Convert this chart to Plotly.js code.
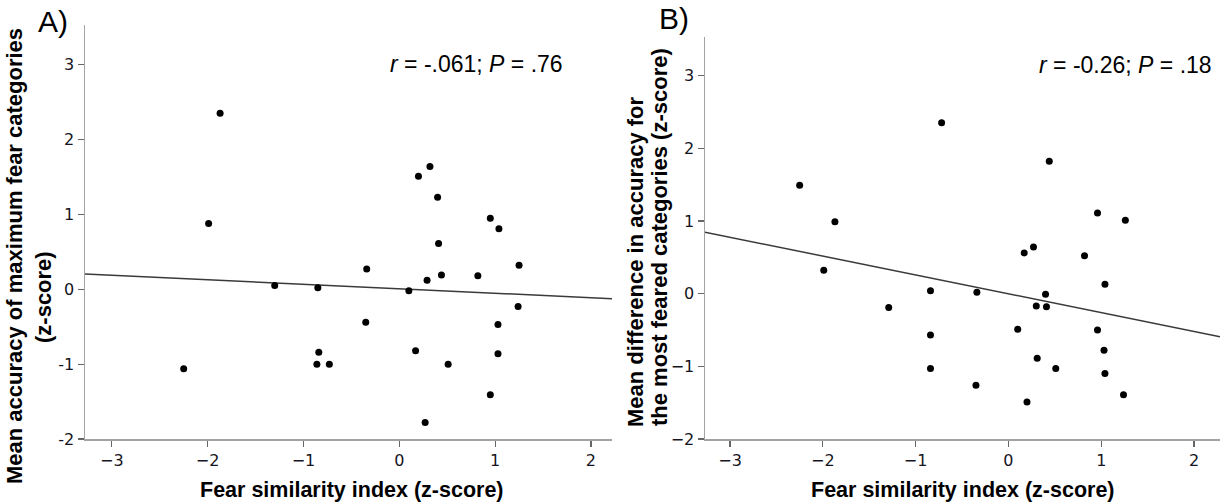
<!DOCTYPE html>
<html>
<head>
<meta charset="utf-8">
<script src="https://cdn.plot.ly/plotly-3.0.1.min.js"></script>
<style>html,body{margin:0;padding:0;background:#fff;} #chart{width:1225px;height:502px;}</style>
</head>
<body>
<div id="chart"></div>
<script>
// Fear similarity index (z-score), shared by both panels
const fearIndexA = [-2.25, -1.99, -1.87, -1.30, -0.85, -0.84, -0.86, -0.73, -0.34, -0.35, 0.10, 0.17, 0.20, 0.32, 0.27, 0.29, 0.40, 0.41, 0.44, 0.51, 0.82, 0.95, 1.04, 0.95, 1.03, 1.03, 1.25, 1.24];
// Panel A: mean accuracy of maximum fear categories (z-score)
const accuracyA = [-1.06, 0.88, 2.35, 0.05, 0.02, -0.84, -1.00, -1.00, 0.27, -0.44, -0.02, -0.82, 1.51, 1.64, -1.78, 0.12, 1.23, 0.61, 0.19, -1.00, 0.18, 0.95, 0.81, -1.41, -0.47, -0.86, 0.32, -0.23];

const fearIndexB = [-2.25, -1.99, -1.87, -1.29, -0.84, -0.84, -0.84, -0.72, -0.34, -0.35, 0.10, 0.17, 0.20, 0.27, 0.30, 0.31, 0.40, 0.41, 0.44, 0.51, 0.82, 0.96, 0.96, 1.03, 1.04, 1.04, 1.26, 1.24];
// Panel B: mean difference in accuracy for the most feared categories (z-score)
const diffB = [1.49, 0.32, 0.99, -0.19, 0.04, -0.57, -1.03, 2.35, 0.02, -1.26, -0.49, 0.56, -1.49, 0.64, -0.17, -0.89, -0.01, -0.18, 1.82, -1.03, 0.52, 1.11, -0.50, -0.78, 0.13, -1.10, 1.01, -1.39];

const xTickVals = [-3, -2, -1, 0, 1, 2];
const yTickValsA = [-2, -1, 0, 1, 2, 3];
const yTickTextA = ['-2', '-1', '0', '1', '2', '3'];
const yTickValsB = [-2, -1, 0, 1, 2, 3];

const statA = '<i>r</i> = -.061; <i>P</i> = .76';
const statB = '<i>r</i> = -0.26; <i>P</i> = .18';
const xTitle = 'Fear similarity index (z-score)';
const yTitleA = ['Mean accuracy of maximum fear categories', '(z-score)'];
const yTitleB = ['Mean difference in accuracy for', 'the most feared categories (z-score)'];

const rangeXA = [-3.28, 2.22], rangeXB = [-3.27, 2.28], rangeY = [-2, 3.53];

function fit(x, y) {
  const n = x.length;
  const mx = x.reduce((a, b) => a + b, 0) / n;
  const my = y.reduce((a, b) => a + b, 0) / n;
  let sxy = 0, sxx = 0;
  for (let i = 0; i < n; i++) { sxy += (x[i] - mx) * (y[i] - my); sxx += (x[i] - mx) ** 2; }
  const b = sxy / sxx, a = my - b * mx;
  return xs => xs.map(v => a + b * v);
}
const fA = fit(fearIndexA, accuracyA), fB = fit(fearIndexB, diffB);

const W = 1225, H = 502;
const px = v => v / W, py = v => 1 - v / H;

const marker = {color: '#000', size: 7};
const lineStyle = {color: '#3a3a3a', width: 1.5};
const traces = [
  {x: rangeXA, y: fA(rangeXA), mode: 'lines', line: lineStyle, xaxis: 'x', yaxis: 'y', hoverinfo: 'skip'},
  {x: fearIndexA, y: accuracyA, mode: 'markers', marker: marker, xaxis: 'x', yaxis: 'y'},
  {x: rangeXB, y: fB(rangeXB), mode: 'lines', line: lineStyle, xaxis: 'x2', yaxis: 'y2', hoverinfo: 'skip'},
  {x: fearIndexB, y: diffB, mode: 'markers', marker: marker, xaxis: 'x2', yaxis: 'y2'}
];

const tickFont = {family: 'DejaVu Sans', size: 16, color: '#151522'};
const axisBase = {
  showgrid: false, zeroline: false, showline: true, linecolor: '#a3a3a3', linewidth: 1.5,
  ticks: 'outside', ticklen: 6, tickwidth: 1.2, tickcolor: '#666', tickfont: tickFont,
  automargin: false, fixedrange: true
};

const titleFont = {family: 'Liberation Sans, Arial', size: 21.5, color: '#000', weight: 'bold'};
const yTitleFont = {family: 'Liberation Sans, Arial', size: 22, color: '#000', weight: 'bold'};
const statFont = {family: 'Liberation Sans, Arial', size: 23, color: '#000'};
const labelFont = {family: 'Liberation Sans, Arial', size: 30, color: '#000'};

function ann(text, x, y, font, opts) {
  return Object.assign({text: text, x: px(x), y: py(y), xref: 'paper', yref: 'paper', showarrow: false,
    font: font, xanchor: 'center', yanchor: 'middle'}, opts || {});
}

const layout = {
  width: W, height: H,
  margin: {l: 0, r: 0, t: 0, b: 0},
  paper_bgcolor: '#fff', plot_bgcolor: '#fff',
  showlegend: false,
  xaxis: Object.assign({}, axisBase, {domain: [px(85), px(612)], range: rangeXA, tickvals: xTickVals, anchor: 'y'}),
  yaxis: Object.assign({}, axisBase, {domain: [1 - 439 / H, 1 - 25 / H], range: rangeY, tickvals: yTickValsA, ticktext: yTickTextA, anchor: 'x'}),
  xaxis2: Object.assign({}, axisBase, {domain: [px(705), px(1220)], range: rangeXB, tickvals: xTickVals, anchor: 'y2'}),
  yaxis2: Object.assign({}, axisBase, {domain: [1 - 439 / H, 1 - 37 / H], range: rangeY, tickvals: yTickValsB, anchor: 'x2'}),
  annotations: [
    ann(statA, 388, 64, statFont, {xanchor: 'left'}),
    ann(statB, 1037, 65, statFont, {xanchor: 'left'}),
    ann(xTitle, 352, 490, titleFont),
    ann(xTitle, 963, 490, titleFont),
    ann(yTitleA[0], 14, 256, yTitleFont, {textangle: -90}),
    ann(yTitleA[1], 43, 297, yTitleFont, {textangle: -90}),
    ann(yTitleB[0], 635, 262, yTitleFont, {textangle: -90}),
    ann(yTitleB[1], 659, 237, yTitleFont, {textangle: -90}),
    ann('A)', 53, 22, labelFont),
    ann('B)', 674, 19, labelFont)
  ]
};

Plotly.newPlot('chart', traces, layout, {displayModeBar: false, staticPlot: true});
</script>
</body>
</html>
